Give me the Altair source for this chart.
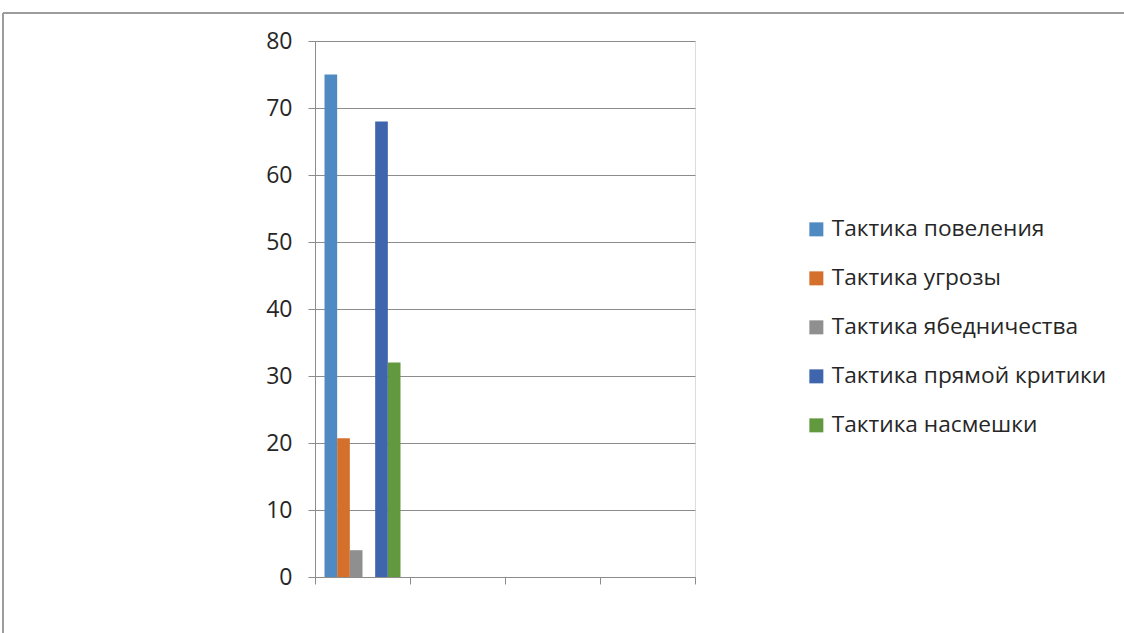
import altair as alt
import pandas as pd

series = ["Тактика повеления", "Тактика угрозы", "Тактика ябедничества",
          "Тактика прямой критики", "Тактика насмешки"]
values = [75, 20.7, 4, 68, 32]
colors = ["#4F8BC2", "#D46F2C", "#8F8F8F", "#3F66AD", "#62993F"]
categories = ["1", "2", "3", "4"]
slots = ["Тактика повеления", "Тактика угрозы", "Тактика ябедничества", "—",
         "Тактика прямой критики", "Тактика насмешки"]
y_ticks = [0, 10, 20, 30, 40, 50, 60, 70, 80]
boundaries = [0, 1, 2, 3, 4]

df = pd.DataFrame({"cat": ["1"] * 5, "series": series, "value": values})
bdf = pd.DataFrame({"b": boundaries})

FONT = "Open Sans"
GRAY = "#8c8c8c"

bars = alt.Chart(df).mark_bar().encode(
    x=alt.X("cat:N", scale=alt.Scale(domain=categories, paddingInner=0, paddingOuter=0), axis=None),
    xOffset=alt.XOffset("series:N", scale=alt.Scale(domain=slots, paddingInner=0, paddingOuter=0.75)),
    y=alt.Y("value:Q", scale=alt.Scale(domain=[0, 80], nice=False),
            axis=alt.Axis(values=y_ticks, title=None, grid=True, gridColor=GRAY,
                          domainColor=GRAY, tickColor=GRAY, tickSize=7,
                          labelPadding=16, labelFontSize=23, labelFont=FONT,
                          labelColor="#262626")),
    color=alt.Color("series:N", scale=alt.Scale(domain=series, range=colors),
                    legend=alt.Legend(title=None, orient="none", legendX=490, legendY=177,
                                      symbolType="square", symbolSize=196,
                                      symbolStrokeWidth=0, labelFontSize=22.7,
                                      labelFont=FONT, labelColor="#262626",
                                      rowPadding=25, labelOffset=4, labelLimit=400)),
)

xaxis = alt.Chart(bdf).mark_point(opacity=0).encode(
    x=alt.X("b:Q", scale=alt.Scale(domain=[0, 4], nice=False),
            axis=alt.Axis(values=boundaries, labels=False, title=None, grid=False,
                          domainColor=GRAY, tickColor=GRAY, tickSize=7)),
    y=alt.value(536),
)

frame_top = alt.Chart(bdf).mark_rule(color="#999999", strokeWidth=1).encode(
    x=alt.value(-312), x2=alt.value(809), y=alt.value(-28)
)
frame_left = alt.Chart(bdf).mark_rule(color="#999999", strokeWidth=1).encode(
    x=alt.value(-312), y=alt.value(-28), y2=alt.value(592)
)

chart = alt.layer(bars, xaxis, frame_top, frame_left).resolve_scale(x="independent").properties(
    width=380, height=536,
    autosize=alt.AutoSizeParams(type="none"),
    padding={"left": 315, "top": 41, "right": 429, "bottom": 56},
).configure_view(stroke=None).configure(background="white")

chart.save("out.html", embed_options={"renderer": "svg", "actions": False})
